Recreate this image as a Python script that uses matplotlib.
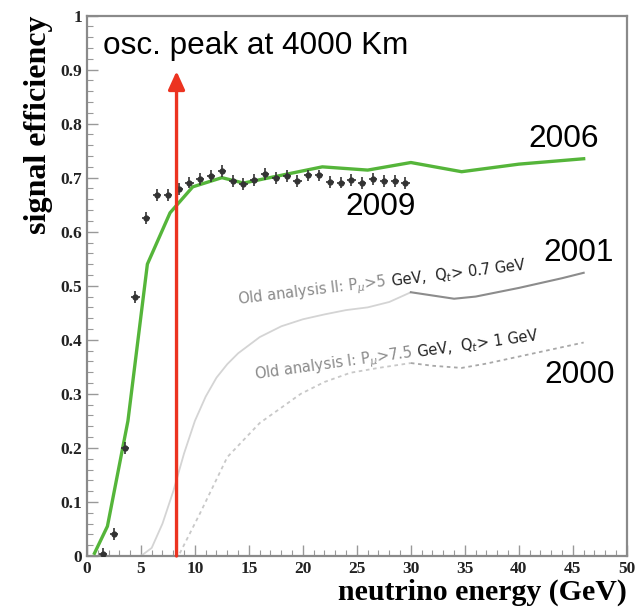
import math
import matplotlib.pyplot as plt
from matplotlib.ticker import MultipleLocator

# 2009 measured efficiency (1 GeV bins)
e_2009 = [1.5, 2.5, 3.5, 4.5, 5.5, 6.5, 7.5, 8.5, 9.5, 10.5, 11.5, 12.5, 13.5, 14.5, 15.5,
          16.5, 17.5, 18.5, 19.5, 20.5, 21.5, 22.5, 23.5, 24.5, 25.5, 26.5, 27.5, 28.5, 29.5]
eff_2009 = [0.003, 0.040, 0.200, 0.480, 0.625, 0.668, 0.668, 0.679, 0.691, 0.698, 0.703,
            0.712, 0.693, 0.688, 0.696, 0.706, 0.700, 0.703, 0.693, 0.704, 0.704, 0.692,
            0.691, 0.696, 0.690, 0.698, 0.694, 0.694, 0.690]

# 2006 analysis
e_2006 = [0.7, 1.9, 3.8, 5.6, 7.7, 9.8, 12.5, 14.5, 21.8, 26.0, 30.0, 34.7, 40.0, 46.0]
eff_2006 = [0.005, 0.055, 0.25, 0.54, 0.635, 0.683, 0.70, 0.69, 0.72, 0.714, 0.728,
            0.711, 0.725, 0.735]

# 2001 (old analysis II)
e_2001 = [5, 6, 7, 8, 9, 10, 11, 12, 13, 14, 16, 18, 20, 22, 24, 26, 28, 30,
          32, 34, 36, 38, 40, 42, 44, 46]
eff_2001 = [0.0, 0.015, 0.06, 0.12, 0.19, 0.25, 0.295, 0.33, 0.355, 0.375, 0.405, 0.425,
            0.438, 0.447, 0.455, 0.46, 0.47, 0.488, 0.482, 0.476, 0.48, 0.488, 0.496,
            0.505, 0.514, 0.524]

# 2000 (old analysis I)
e_2000 = [8.6, 10.5, 13, 16, 19.8, 22, 24.4, 27, 30, 32, 34.7, 37, 40, 43, 46]
eff_2000 = [0.005, 0.08, 0.183, 0.246, 0.30, 0.322, 0.339, 0.348, 0.357, 0.352, 0.348,
            0.356, 0.369, 0.382, 0.395]

OSC_PEAK = 8.3
GREEN, RED = "#55b53a", "#ec3320"
SANS = "Liberation Sans"
SERIF = "Liberation Serif"

fig = plt.figure(figsize=(6.39, 6.08), dpi=100)
ax = fig.add_axes([0.136, 0.0855, 0.845, 0.889])

# old analyses: light before 30 GeV, darker after
i1 = e_2001.index(30)
ax.plot(e_2001[:i1 + 1], eff_2001[:i1 + 1], color="#d4d4d4", lw=1.3)
ax.plot(e_2001[i1:], eff_2001[i1:], color="#8c8c8c", lw=1.5)
i0 = e_2000.index(30)
ax.plot(e_2000[:i0 + 1], eff_2000[:i0 + 1], color="#c8c8c8", lw=1.3, ls=(0, (2, 2)))
ax.plot(e_2000[i0:], eff_2000[i0:], color="#a8a8a8", lw=1.3, ls=(0, (2, 2)))

ax.plot(e_2006, eff_2006, color=GREEN, lw=2.4, zorder=3)
ax.errorbar(e_2009, eff_2009, xerr=0.38, yerr=0.011, fmt="o", ms=3.5, color="#333333",
            elinewidth=1.2, capsize=0, zorder=4)

ax.annotate("", xy=(OSC_PEAK, 0.897), xytext=(OSC_PEAK, 0.0),
            arrowprops=dict(arrowstyle="-|>,head_length=1.1,head_width=0.5",
                            mutation_scale=10, color=RED, lw=2.4, shrinkA=0, shrinkB=0),
            zorder=5)

ax.text(1.5, 0.943, "osc. peak at 4000 Km", fontsize=22.7, family=SANS, va="center")
for x, y, s in [(44.1, 0.772, "2006"), (27.2, 0.646, "2009"),
                (45.5, 0.561, "2001"), (45.6, 0.335, "2000")]:
    ax.text(x, y, s, fontsize=22.7, family=SANS, ha="center", va="center")

# rotated labels of the old analyses: grey start, dark end on the same baseline
renderer = fig.canvas.get_renderer()
dot_w = ax.text(0, 0, ".", fontsize=10.5).get_window_extent(renderer).width
ax.texts[-1].remove()
for x, y, ang, grey_part, dark_part in [
        (14.0, 0.465, 7.0, r"Old analysis II: P$_\mu$>5 ", r"GeV,  Q$_t$> 0.7 GeV"),
        (15.6, 0.326, 8.0, r"Old analysis I: P$_\mu$>7.5 ", r"GeV,  Q$_t$> 1 GeV")]:
    # measure unrotated width (trailing "." keeps the space counted)
    t = ax.text(x, y, grey_part + ".", fontsize=10.5, color="#8a8a8a", va="baseline")
    w = t.get_window_extent(renderer).width - dot_w
    t.set_text(grey_part)
    t.set_rotation(ang)
    t.set_rotation_mode("anchor")
    off = w * 72 / fig.dpi
    ax.annotate(dark_part, xy=(x, y), xytext=(off * math.cos(math.radians(ang)),
                                              off * math.sin(math.radians(ang))),
                textcoords="offset points", fontsize=10.5, color="#222222",
                rotation=ang, rotation_mode="anchor", ha="left", va="baseline")

ax.set_xlim(0, 50)
ax.set_ylim(0, 1)
ax.xaxis.set_major_locator(MultipleLocator(5))
ax.xaxis.set_minor_locator(MultipleLocator(1))
ax.yaxis.set_minor_locator(MultipleLocator(0.02))
ax.set_yticks([0, 0.1, 0.2, 0.3, 0.4, 0.5, 0.6, 0.7, 0.8, 0.9, 1.0],
              ["0", "0.1", "0.2", "0.3", "0.4", "0.5", "0.6", "0.7", "0.8", "0.9", "1"])
ax.tick_params(which="both", direction="in", color="#999999", top=False, right=False)
ax.tick_params(which="major", length=8, width=1.0)
ax.tick_params(which="minor", length=4, width=0.8)
for lab in ax.get_xticklabels() + ax.get_yticklabels():
    lab.set_fontfamily(SERIF)
    lab.set_fontweight("bold")
    lab.set_fontsize(12.5)
    lab.set_color("#222222")
for side in ["left", "bottom", "top", "right"]:
    ax.spines[side].set_color("#8a8a8a")
    ax.spines[side].set_linewidth(1.6)

ax.set_xlabel("neutrino energy (GeV)", family=SERIF, weight="bold", fontsize=21.5,
              loc="right", labelpad=1)
ax.set_ylabel("signal efficiency", family=SERIF, weight="bold", fontsize=23,
              loc="top", labelpad=5)

fig.savefig("out.png", dpi=100)
